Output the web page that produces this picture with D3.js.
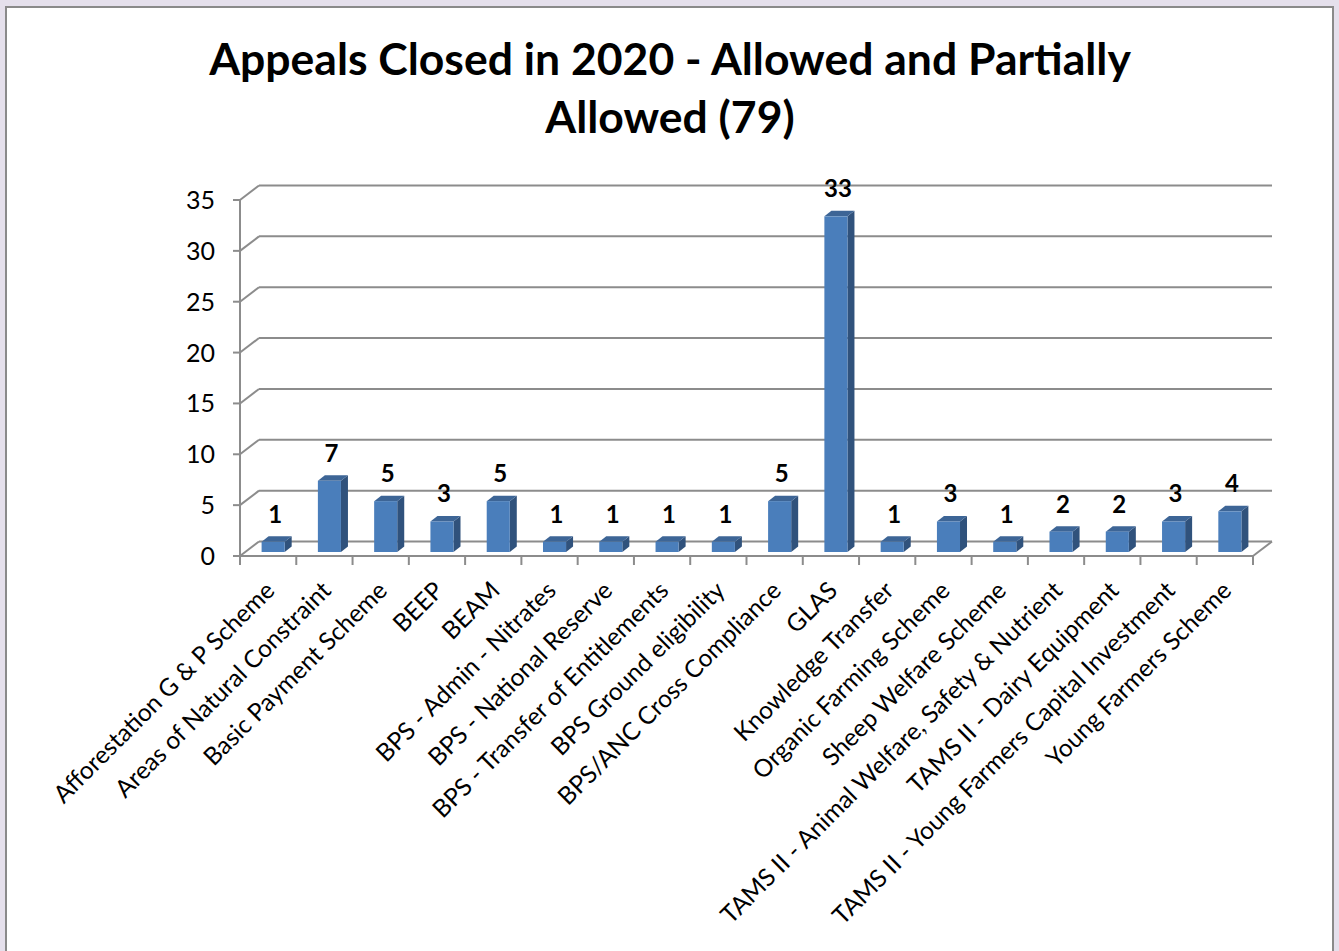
<!DOCTYPE html>
<html>
<head>
<meta charset="utf-8">
<script src="https://cdn.jsdelivr.net/npm/d3@7"></script>
<style>
  html, body { margin: 0; padding: 0; background: #e5e0ec; }
  svg { display: block; }
</style>
</head>
<body>
<svg id="chart" width="1339" height="951"></svg>
<script>
// Appeals closed in 2020, allowed and partially allowed, by scheme
const categories = [
  "Afforestation G & P Scheme",
  "Areas of Natural Constraint",
  "Basic Payment Scheme",
  "BEEP",
  "BEAM",
  "BPS - Admin - Nitrates",
  "BPS - National Reserve",
  "BPS - Transfer of Entitlements",
  "BPS Ground eligibility",
  "BPS/ANC Cross Compliance",
  "GLAS",
  "Knowledge Transfer",
  "Organic Farming Scheme",
  "Sheep Welfare Scheme",
  "TAMS II - Animal Welfare, Safety & Nutrient",
  "TAMS II - Dairy Equipment",
  "TAMS II - Young Farmers Capital Investment",
  "Young Farmers Scheme"
];
const values = [1, 7, 5, 3, 5, 1, 1, 1, 1, 5, 33, 1, 3, 1, 2, 2, 3, 4];
const yTicks = [0, 5, 10, 15, 20, 25, 30, 35];
const titleLines = ["Appeals Closed in 2020 - Allowed and Partially", "Allowed (79)"];

const svg = d3.select("#chart");
const font = "Lato, 'Open Sans', sans-serif";

// outer chart frame
svg.append("rect")
  .attr("x", 6).attr("y", 7).attr("width", 1327).attr("height", 960)
  .attr("fill", "#ffffff").attr("stroke", "#8a8a8a").attr("stroke-width", 2);

// plot geometry: front plane plus an oblique back wall
const x0 = 240, x1 = 1253;
const depth = { dx: 19, dy: -14.5 };
const x = d3.scaleBand().domain(categories).range([x0, x1]).padding(0);
const y = d3.scaleLinear().domain([0, 35]).range([556, 200]);

const gridColor = "#8c8c8c";
const g = svg.append("g");

// horizontal gridlines on the back wall, with diagonals back from the axis
yTicks.forEach(t => {
  const yy = y(t);
  g.append("line")
    .attr("x1", x0 + depth.dx).attr("x2", x1 + depth.dx)
    .attr("y1", yy + depth.dy).attr("y2", yy + depth.dy)
    .attr("stroke", gridColor).attr("stroke-width", 2);
  g.append("line")
    .attr("x1", x0).attr("y1", yy)
    .attr("x2", x0 + depth.dx).attr("y2", yy + depth.dy)
    .attr("stroke", gridColor).attr("stroke-width", 2);
});

// floor: front edge and right side edge
g.append("line")
  .attr("x1", x0).attr("x2", x1).attr("y1", y(0)).attr("y2", y(0))
  .attr("stroke", gridColor).attr("stroke-width", 2);
g.append("line")
  .attr("x1", x1).attr("y1", y(0))
  .attr("x2", x1 + depth.dx).attr("y2", y(0) + depth.dy)
  .attr("stroke", gridColor).attr("stroke-width", 2);

// value axis
g.append("line")
  .attr("x1", x0).attr("x2", x0).attr("y1", y(0)).attr("y2", y(35))
  .attr("stroke", gridColor).attr("stroke-width", 2);
yTicks.forEach(t => {
  g.append("line")
    .attr("x1", x0 - 7).attr("x2", x0).attr("y1", y(t)).attr("y2", y(t))
    .attr("stroke", gridColor).attr("stroke-width", 2);
});
g.selectAll("text.ytick").data(yTicks).join("text")
  .attr("class", "ytick")
  .attr("x", 215).attr("y", d => y(d))
  .attr("dy", "0.36em")
  .attr("text-anchor", "end")
  .attr("font-family", font).attr("font-size", 25)
  .attr("fill", "#000")
  .text(d => d);

// category tick marks
const boundaries = categories.map(c => x(c)).concat([x1]);
boundaries.forEach(bx => {
  g.append("line")
    .attr("x1", bx).attr("x2", bx).attr("y1", y(0)).attr("y2", y(0) + 9)
    .attr("stroke", gridColor).attr("stroke-width", 2);
});

// 3D bars
const barW = x.bandwidth() * 0.41;
const barOff = { dx: 5, dy: -4 };
const barDepth = { dx: 7, dy: -5.5 };
const bars = g.selectAll("g.bar").data(categories.map((c, i) => ({ c, v: values[i] })))
  .join("g").attr("class", "bar");

bars.each(function(d) {
  const sel = d3.select(this);
  const left = x(d.c) + (x.bandwidth() - barW) / 2 + barOff.dx;
  const right = left + barW;
  const bottom = y(0) + barOff.dy;
  const top = y(d.v) + barOff.dy;
  // side face
  sel.append("path")
    .attr("d", `M${right},${bottom} L${right + barDepth.dx},${bottom + barDepth.dy} L${right + barDepth.dx},${top + barDepth.dy} L${right},${top} Z`)
    .attr("fill", "#30527c");
  // top face
  sel.append("path")
    .attr("d", `M${left},${top} L${left + barDepth.dx},${top + barDepth.dy} L${right + barDepth.dx},${top + barDepth.dy} L${right},${top} Z`)
    .attr("fill", "#3d6596");
  // front face
  sel.append("rect")
    .attr("x", left).attr("y", top).attr("width", barW).attr("height", bottom - top)
    .attr("fill", "#4a7ebb");
  // value label
  sel.append("text")
    .attr("x", left + barW / 2 + 2).attr("y", top - 19)
    .attr("text-anchor", "middle")
    .attr("font-family", font).attr("font-weight", "bold").attr("font-size", 24)
    .attr("fill", "#000")
    .text(d.v);
});

// rotated category labels
g.selectAll("text.xlab").data(categories).join("text")
  .attr("class", "xlab")
  .attr("text-anchor", "end")
  .attr("font-family", font).attr("font-size", 24.5)
  .attr("fill", "#000")
  .attr("transform", d => `translate(${x(d) + x.bandwidth() / 2 + 8},${y(0) + 36}) rotate(-45)`)
  .text(d => d);

// title
svg.selectAll("text.title").data(titleLines).join("text")
  .attr("class", "title")
  .attr("x", 670).attr("y", (d, i) => 75 + i * 58)
  .attr("text-anchor", "middle")
  .attr("font-family", font).attr("font-weight", "bold").attr("font-size", 44.5)
  .attr("fill", "#000")
  .text(d => d);
</script>
</body>
</html>
